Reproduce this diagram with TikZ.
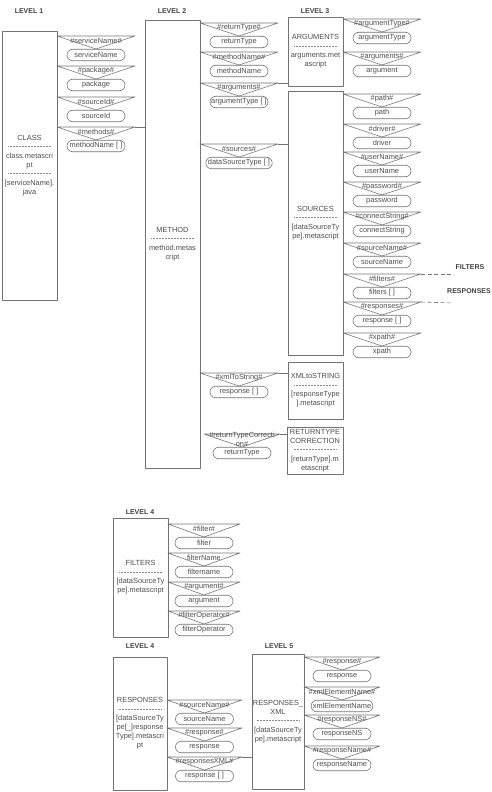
\documentclass[tikz,border=0pt]{standalone}
\usepackage{fontspec}
\setmainfont{Liberation Sans}
\usetikzlibrary{shapes.misc,calc}

\newcommand{\sepline}{\hbox to 44pt{\color{black!45}\cleaders\hbox to 1.5pt{\hss\rule[2.5pt]{0.9pt}{0.35pt}\hss}\hfill}}
% one field: triangle with its #tag# and the rounded value box below it
\newcommand{\fielditem}[6]{%
  \coordinate (#1-l) at (#2,#4);
  \coordinate (#1-r) at (#3,#4);
  \coordinate (#1-a) at ({(#2+#3)/2},{#4+13});
  \draw[tri] (#1-l) -- (#1-r) -- (#1-a) -- cycle;
  \node[tag] (#1-t) at ({(#2+#3)/2},{#4+5}) {#5};
  \node[fld] (#1) at ({(#2+#3)/2},{#4+19}) {#6};
}

\begin{document}
\begin{tikzpicture}[x=1pt,y=-1pt,line join=round,
  every node/.style={font=\fontsize{7.4}{9}\selectfont,text=black!70}]
\tikzstyle{box}=[draw=black!55,line width=0.7pt,align=center,inner sep=1pt]
\tikzstyle{fld}=[draw=black!55,line width=0.6pt,rounded rectangle,minimum width=60pt,minimum height=11.5pt,inner sep=1pt]
\tikzstyle{tag}=[inner sep=0pt,align=center]
\tikzstyle{tri}=[draw=black!55,line width=0.6pt]
\tikzstyle{lvl}=[font=\bfseries\fontsize{7}{8}\selectfont,text=black!75]
\useasboundingbox (0,0) rectangle (492,792);

\node[lvl] (lvl1) at (29,11) {LEVEL 1};
\node[lvl] (lvl2) at (172,11) {LEVEL 2};
\node[lvl] (lvl3) at (315,11) {LEVEL 3};
\node[lvl] (lvl4a) at (140,512) {LEVEL 4};
\node[lvl] (lvl4b) at (140,646) {LEVEL 4};
\node[lvl] (lvl5) at (279,646) {LEVEL 5};
\node[lvl] (filterslbl) at (470,267) {FILTERS};
\node[lvl] (responseslbl) at (469,291) {RESPONSES};

\node[box,minimum width=55pt,minimum height=269pt] (class) at (29.5,165.5) {CLASS\\\sepline\\class.metascri\\pt\\\sepline\\{}[serviceName].\\java};
\node[box,minimum width=55pt,minimum height=448pt] (method) at (172.5,244) {METHOD\\\sepline\\method.metas\\cript};
\node[box,minimum width=55pt,minimum height=69pt] (arguments) at (315.5,51.5) {ARGUMENTS\\\sepline\\arguments.met\\ascript};
\node[box,minimum width=55pt,minimum height=264pt] (sources) at (315.5,223) {SOURCES\\\sepline\\{}[dataSourceTy\\pe].metascript};
\node[box,minimum width=55pt,minimum height=57pt] (xmlstring) at (315.5,390.5) {XMLtoSTRING\\\sepline\\{}[responseType\\].metascript};
\node[box,minimum width=56pt,minimum height=47pt] (rtcorr) at (315,450.5) {RETURNTYPE\\CORRECTION\\\sepline\\{}[returnType].m\\etascript};
\node[box,minimum width=55pt,minimum height=119pt] (filtersbox) at (140.5,577.5) {FILTERS\\\sepline\\{}[dataSourceTy\\pe].metascript};
\node[box,minimum width=54pt,minimum height=133pt] (responsesbox) at (140,723.5) {RESPONSES\\\sepline\\{}[dataSourceTy\\pe[\_]response\\Type].metascri\\pt};
\node[box,minimum width=52pt,minimum height=135pt] (respxml) at (278,721.5) {RESPONSES\_\\XML\\\sepline\\{}[dataSourceTy\\pe].metascript};

\fielditem{servicename}{57}{135}{36}{\#serviceName\#}{serviceName}
\fielditem{package}{57}{135}{66}{\#package\#}{package}
\fielditem{sourceid}{57}{135}{97}{\#sourceId\#}{sourceId}
\fielditem{methods}{57}{135}{127}{\#methods\#}{methodName [ ]}

\fielditem{returntype}{200}{278}{23}{\#returnType\#}{returnType}
\fielditem{methodname}{200}{278}{52}{\#methodName\#}{methodName}
\fielditem{argumentsf}{200}{278}{83}{\#arguments\#}{argumentType [ ]}
\fielditem{sourcesf}{200}{278}{144}{\#sources\#}{dataSourceType [ ]}
\fielditem{xmltostring}{200}{278}{373}{\#xmlToString\#}{response [ ]}
\fielditem{rtc}{204}{280}{434}{\#returnTypeCorrecti\\on\#}{returnType}

\fielditem{argumenttype}{343}{421}{19}{\#argumentType\#}{argumentType}
\fielditem{argument}{343}{421}{52}{\#arguments\#}{argument}

\fielditem{path}{343}{421}{94}{\#path\#}{path}
\fielditem{driver}{343}{421}{124}{\#driver\#}{driver}
\fielditem{username}{343}{421}{152}{\#userName\#}{userName}
\fielditem{password}{343}{421}{182}{\#password\#}{password}
\fielditem{connectstring}{343}{421}{212}{\#connectString\#}{connectString}
\fielditem{sourcename}{343}{421}{243}{\#sourceName\#}{sourceName}
\fielditem{filters}{343}{421}{274}{\#filters\#}{filters [ ]}
\fielditem{responses}{343}{421}{302}{\#responses\#}{response [ ]}
\fielditem{xpath}{343}{421}{333}{\#xpath\#}{xpath}

\fielditem{filter}{168}{240}{524}{\#filter\#}{filter}
\fielditem{filtername}{168}{240}{553}{filterName}{filtername}
\fielditem{fargument}{168}{240}{582}{\#argument\#}{argument}
\fielditem{filteroperator}{168}{240}{611}{\#filterOperator\#}{filterOperator}

\fielditem{rsourcename}{167}{242}{700}{\#sourceName\#}{sourceName}
\fielditem{rresponse}{167}{242}{728}{\#response\#}{response}
\fielditem{responsesxml}{167}{242}{757}{\#responsesXML\#}{response [ ]}

\fielditem{xresponse}{304}{380}{657}{\#response\#}{response}
\fielditem{xmlelementname}{304}{380}{687}{\#xmlElementName\#}{xmlElementName}
\fielditem{responsens}{304}{380}{715}{\#responseNS\#}{responseNS}
\fielditem{responsename}{304}{380}{746}{\#responseName\#}{responseName}

\draw[tri] (methods-r) -- (method.west |- methods-r);
\draw[tri] (argumentsf-r) -- (arguments.west |- argumentsf-r);
\draw[tri] (sourcesf-r) -- (sources.west |- sourcesf-r);
\draw[tri] (xmltostring-r) -- (xmlstring.west |- xmltostring-r);
\draw[tri] (rtc-r) -- (rtcorr.west |- rtc-r);
\draw[tri] (responsesxml-r) -- (respxml.west |- responsesxml-r);

\coordinate (respend) at (453,303);
\draw[tri,dash pattern=on 4pt off 2.5pt] (filters-r) -- (filterslbl.west |- filters-r);
\draw[tri,dash pattern=on 4pt off 2.5pt] (responses-r) -- (respend);
\end{tikzpicture}
\end{document}
